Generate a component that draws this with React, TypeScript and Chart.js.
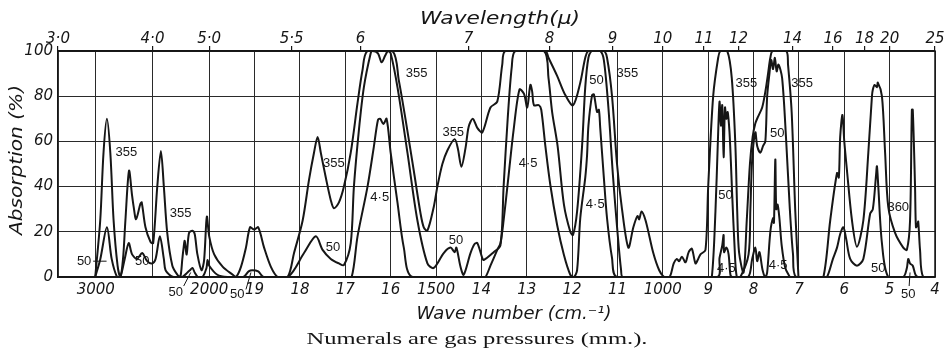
import { useEffect, useRef } from 'react';
import { Chart, registerables, LinearScale } from 'chart.js';

// ---- axis definition (wave number, cm^-1) ----
const WN_MAX = 10000 / 3; // 3.0 micron
const WN_MIN = 400;       // 25 micron
const WN_BREAK = 2000;    // scale changes here
const COMPRESS = 4;       // high-frequency part drawn 4x compressed

const WN_TICKS = [3000, 2500, 2000, 1900, 1800, 1700, 1600, 1500, 1400, 1300, 1200, 1100, 1000, 900, 800, 700, 600, 500, 400];
const WN_TICK_LABELS = ['3000', '', '2000', '19', '18', '17', '16', '1500', '14', '13', '12', '11', '1000', '9', '8', '7', '6', '5', '4'];

const WL_TICKS = [3, 4, 5, 5.5, 6, 7, 8, 9, 10, 11, 12, 14, 16, 18, 20, 25];
const WL_TICK_LABELS = ['3·0', '4·0', '5·0', '5·5', '6', '7', '8', '9', '10', '11', '12', '14', '16', '18', '20', '25'];

const Y_TICKS = [0, 20, 40, 60, 80, 100];

// ---- spectra: [wave number, absorption %] ----
const S355: [number, number][] = [
  [3005, 0], [2961, 25], [2932, 55], [2902, 70], [2872, 55], [2843, 25], [2808, 5], [2784, 0], [2760, 8], [2739, 25], [2707, 47], [2680, 36], [2666, 31], [2645, 25.6], [2606, 32.5], [2595, 33], [2562, 22], [2518, 15.6], [2494, 15], [2458, 40], [2426, 55.7], [2400, 40], [2370, 19.5], [2325, 5], [2281, 1], [2255, 0], [2237, 8], [2228, 12], [2216, 16], [2199, 10], [2178, 19.5], [2148, 20.5], [2128, 19], [2104, 10], [2068, 3], [2045, 7.5], [2021, 26.7], [2000, 18], [1989, 10], [1970, 4.5], [1948, 1], [1941, 0],
  [1930, 4.5], [1919, 13], [1910, 22], [1901, 21], [1892, 22], [1879, 13], [1864, 4.5], [1849, 0], [1827, 0], [1813, 10.6], [1794, 25], [1780, 43], [1769, 55], [1761, 62], [1754, 55], [1743, 44], [1732, 34], [1725, 30.4], [1714, 33], [1703, 40], [1688, 55], [1673, 77], [1662, 91.6], [1651, 100], [1596, 100], [1582, 87], [1567, 69.5], [1549, 47], [1534, 28], [1527, 22], [1519, 20.5], [1505, 31], [1497, 40], [1486, 50], [1475, 56], [1459, 61], [1452, 57], [1444, 48.8], [1435, 57], [1428, 66.5], [1419, 70], [1409, 66], [1398, 64], [1380, 75], [1365, 77.6], [1354, 94], [1347, 100],
  [1259, 100], [1252, 97], [1233, 89], [1215, 80.5], [1198, 76], [1182, 86], [1171, 97], [1164, 100], [1130, 100], [1123, 97], [1112, 80], [1101, 50], [1090, 30], [1076, 13], [1065, 22], [1056, 27], [1052, 25.5], [1047, 29], [1038, 25], [1021, 10.6], [1008, 3], [997, 0], [985, 0], [976, 6], [969, 8], [964, 7], [958, 9], [950, 6.5], [943, 11], [936, 12.5], [928, 6], [922, 8], [917, 10], [906, 12], [900, 40], [889, 80], [878, 97], [873, 100], [858, 100], [848, 88], [840, 58], [836, 29], [832, 11], [822, 2], [815, 25], [808, 50], [802, 62], [796, 68], [790, 71], [781, 75], [774, 82], [768, 90], [763, 97], [758, 100], [728, 100], [724, 94], [716, 73], [708, 29], [701, 0],
];

const S50: [number, number][] = [
  [3005, 0], [2960, 8], [2902, 22], [2860, 8], [2813, 0], [2784, 0], [2745, 8], [2710, 15], [2680, 10], [2636, 8], [2591, 10.6], [2547, 7], [2503, 6], [2473, 8], [2435, 18], [2400, 8], [2385, 3], [2340, 0.5], [2314, 0], [2237, 0], [2192, 2], [2170, 3], [2148, 4], [2128, 2], [2100, 0], [2060, 0], [2024, 4], [2015, 7.5], [2000, 5], [1982, 1], [1960, 0], [1925, 0], [1913, 2.5], [1905, 3], [1892, 2.5], [1880, 0], [1827, 0],
  [1791, 10.6], [1765, 18], [1750, 12], [1732, 8], [1714, 6], [1703, 5.3], [1688, 15], [1681, 40], [1670, 65], [1659, 84], [1644, 99], [1640, 100], [1628, 99], [1620, 95], [1612, 98], [1606, 100], [1600, 99], [1585, 84], [1563, 55], [1541, 25], [1519, 6], [1505, 4], [1483, 10.6], [1468, 13], [1459, 11], [1455, 13], [1446, 4.5], [1439, 1], [1424, 10.6], [1415, 14.6], [1409, 15], [1398, 8.4], [1395, 7.5], [1373, 11], [1358, 14], [1351, 40], [1342, 70], [1333, 93], [1325, 100],
  [1262, 100], [1252, 88], [1244, 73], [1232, 58], [1218, 32], [1204, 20], [1198, 18.6], [1189, 29], [1178, 58], [1171, 84], [1164, 97], [1156, 100], [1138, 100], [1130, 96], [1120, 75], [1110, 45], [1100, 20], [1092, 3], [1088, 0], [900, 0], [892, 0], [884, 29], [879, 58], [875, 77.6], [872, 67], [869, 76], [866, 53], [863, 75], [860, 70], [857, 73], [853, 64], [850, 51], [847, 36], [842, 14], [837, 0], [829, 0], [811, 10], [807, 30], [803, 52], [796, 64], [792, 58], [785, 55], [779, 58], [774, 60], [770, 80], [765, 90], [761, 96], [757, 92], [753, 97], [749, 91], [745, 94], [737, 88], [728, 60], [720, 30], [713, 10], [706, 0],
  [646, 0], [638, 0], [625, 8], [616, 13], [609, 19], [602, 22], [596, 17], [587, 8], [572, 5], [558, 8], [543, 28], [537, 30], [530, 45], [528, 49], [525, 40], [517, 15], [503, 0], [470, 0], [462, 4], [459, 8], [455, 6], [449, 5], [443, 1], [437, 0], [400, 0],
];

const S4_5: [number, number][] = [
  [1700, 0], [1686, 0], [1673, 18], [1651, 40], [1637, 57.7], [1628, 69.5], [1623, 70], [1616, 67.7], [1609, 70], [1600, 55], [1585, 33], [1571, 13], [1552, 0], [1398, 0], [1391, 0], [1380, 5], [1365, 12], [1358, 15], [1351, 25], [1340, 45], [1329, 65], [1316, 83], [1306, 81], [1299, 75], [1292, 85], [1288, 82], [1284, 76], [1273, 76], [1268, 74], [1259, 58], [1248, 40.7], [1233, 23], [1218, 9.7], [1204, 1], [1196, 0],
  [1189, 3], [1182, 26], [1171, 44], [1167, 54], [1164, 67], [1156, 80.5], [1152, 80.8], [1145, 73], [1141, 74], [1138, 66], [1130, 44], [1123, 26], [1112, 8.4], [1101, 0], [880, 0], [875, 8.4], [869, 14], [866, 18.6], [865, 11], [860, 13], [855, 10], [851, 1], [847, 0], [812, 0], [803, 8], [796, 13], [792, 7], [787, 11], [780, 3], [774, 0], [770, 2], [763, 20], [757, 26], [755, 24], [752, 52], [750, 30], [747, 32], [743, 26], [738, 14], [730, 4], [720, 0],
];

const S360: [number, number][] = [
  [660, 0], [646, 0], [631, 25], [616, 46], [612, 44], [609, 62], [604, 71.7], [600, 60], [594, 47], [583, 25], [572, 13.4], [558, 25], [547, 55], [539, 80], [537, 83], [533, 85], [528, 84], [526, 86], [517, 80], [510, 55], [503, 31], [488, 19.5], [470, 13], [462, 12], [455, 25], [451, 74], [449, 74], [444, 40], [442, 22], [439, 23], [437, 24.5], [433, 12], [426, 0], [400, 0],
];

// pressure annotations: text, wave number, absorption, optional leader line
type Note = { t: string; wn: number; p: number; lead?: [number, number, number, number] };
const NOTES: Note[] = [
  { t: '50', wn: 3103, p: 7, lead: [3023, 7, 2905, 7] },
  { t: '355', wn: 2730, p: 55 },
  { t: '50', wn: 2590, p: 7 },
  { t: '355', wn: 2252, p: 28 },
  { t: '50', wn: 2296, p: -7, lead: [2225, -4, 2163, 2] },
  { t: '50', wn: 1938, p: -7.5, lead: [1919, -5.5, 1908, 2] },
  { t: '355', wn: 1725, p: 50.4 },
  { t: '50', wn: 1727, p: 13.3 },
  { t: '4·5', wn: 1624, p: 35 },
  { t: '355', wn: 1543, p: 90.3 },
  { t: '355', wn: 1462, p: 64 },
  { t: '50', wn: 1456, p: 16.4 },
  { t: '4·5', wn: 1297, p: 50.4 },
  { t: '50', wn: 1146, p: 87 },
  { t: '4·5', wn: 1149, p: 32 },
  { t: '355', wn: 1078, p: 90.3 },
  { t: '355', wn: 816, p: 85.8 },
  { t: '355', wn: 693, p: 85.8 },
  { t: '50', wn: 748, p: 63.7 },
  { t: '50', wn: 862, p: 36.3 },
  { t: '4·5', wn: 860, p: 4 },
  { t: '4·5', wn: 746, p: 5.3 },
  { t: '360', wn: 481, p: 31 },
  { t: '50', wn: 525, p: 4 },
  { t: '50', wn: 459, p: -7.5, lead: [457, -4, 455, 2] },
];

// ---- piecewise wave-number scale ----
const SEG1 = (WN_MAX - WN_BREAK) / COMPRESS;
function warpUnits(v: number) {
  return v >= WN_BREAK ? (WN_MAX - v) / COMPRESS : SEG1 + (WN_BREAK - v);
}
const TOTAL = warpUnits(WN_MIN);
function unwarp(u: number) {
  return u <= SEG1 ? WN_MAX - u * COMPRESS : WN_BREAK - (u - SEG1);
}

class WarpScale extends LinearScale {
  static id = 'warp';
  getPixelForValue(value: number) {
    return this.getPixelForDecimal(warpUnits(value) / TOTAL);
  }
  getValueForPixel(pixel: number) {
    return unwarp(this.getDecimalForPixel(pixel) * TOTAL);
  }
}

Chart.register(...registerables, WarpScale as any);

const INK = '#161616';
const TICK_FONT = { family: "'DejaVu Sans'", style: 'italic' as const, size: 15 };

function drawFitted(ctx: CanvasRenderingContext2D, text: string, cx: number, cy: number, font: string, width: number, rot = 0) {
  ctx.save();
  ctx.font = font;
  ctx.textAlign = 'center';
  ctx.textBaseline = 'middle';
  const w = ctx.measureText(text).width;
  ctx.translate(cx, cy);
  if (rot) ctx.rotate(rot);
  ctx.scale(width / w, 1);
  ctx.fillStyle = INK;
  ctx.fillText(text, 0, 0);
  ctx.restore();
}

const textPlugin = {
  id: 'texts',
  afterDraw(chart: any) {
    const { ctx, chartArea, scales } = chart;
    const xs = scales.x;
    const ys = scales.y;
    ctx.save();
    ctx.strokeStyle = INK;
    ctx.lineWidth = 1.5;
    ctx.strokeRect(chartArea.left, chartArea.top, chartArea.right - chartArea.left, chartArea.bottom - chartArea.top);
    ctx.restore();

    drawFitted(ctx, 'Wavelength(μ)', 500, 20, "italic 17px 'DejaVu Sans'", 160);
    drawFitted(ctx, 'Wave number (cm.⁻¹)', 514, 315, "italic 17px 'DejaVu Sans'", 195);
    drawFitted(ctx, 'Absorption (%)', 17, 160, "italic 18px 'DejaVu Sans'", 150, -Math.PI / 2);
    drawFitted(ctx, 'Numerals are gas pressures (mm.).', 477, 340, "17px 'Liberation Serif'", 341);

    ctx.save();
    ctx.font = "13px 'Liberation Sans'";
    ctx.textAlign = 'center';
    ctx.textBaseline = 'middle';
    ctx.fillStyle = INK;
    ctx.strokeStyle = INK;
    ctx.lineWidth = 1;
    for (const n of NOTES) {
      const x = xs.getPixelForValue(n.wn);
      const y = ys.getPixelForValue(n.p);
      ctx.fillText(n.t, x, y);
      if (n.lead) {
        ctx.beginPath();
        ctx.moveTo(xs.getPixelForValue(n.lead[0]), ys.getPixelForValue(n.lead[1]));
        ctx.lineTo(xs.getPixelForValue(n.lead[2]), ys.getPixelForValue(n.lead[3]));
        ctx.stroke();
      }
    }
    ctx.restore();
  },
};

function toPoints(arr: [number, number][]) {
  return arr.map(([x, y]) => ({ x, y }));
}

export default function App() {
  const ref = useRef<HTMLCanvasElement>(null);
  useEffect(() => {
    if (!ref.current) return;
    const ds = (label: string, arr: [number, number][]) => ({
      label,
      data: toPoints(arr),
      borderColor: INK,
      borderWidth: 2,
      pointRadius: 0,
      tension: 0.3,
      fill: false,
      xAxisID: 'x',
      yAxisID: 'y',
    });
    const chart = new Chart(ref.current, {
      type: 'line',
      data: {
        datasets: [ds('355 mm', S355), ds('50 mm', S50), ds('4.5 mm', S4_5), ds('360 mm', S360)],
      },
      options: {
        animation: false,
        responsive: false,
        events: [],
        layout: { padding: { left: 0, right: 14, top: 0, bottom: 0 } },
        plugins: { legend: { display: false }, tooltip: { enabled: false }, title: { display: false } },
        scales: {
          x: {
            type: 'warp' as any,
            position: 'bottom',
            min: WN_MIN,
            max: WN_MAX,
            afterBuildTicks: (s: any) => { s.ticks = WN_TICKS.map((v) => ({ value: v })); },
            afterFit: (s: any) => { s.height = 75; },
            ticks: { autoSkip: false, maxRotation: 0, minRotation: 0, padding: 4, color: INK, font: TICK_FONT, callback: (_v: any, i: number) => WN_TICK_LABELS[i] },
            grid: { color: '#2a2a2a', lineWidth: 1, drawTicks: false },
            border: { color: INK, width: 1.5 },
          },
          x2: {
            type: 'warp' as any,
            position: 'top',
            min: WN_MIN,
            max: WN_MAX,
            afterBuildTicks: (s: any) => { s.ticks = WL_TICKS.map((u) => ({ value: 10000 / u })); },
            afterFit: (s: any) => { s.height = 51; },
            ticks: { autoSkip: false, maxRotation: 0, minRotation: 0, padding: -2, color: INK, font: TICK_FONT, callback: (_v: any, i: number) => WL_TICK_LABELS[i] },
            grid: { drawOnChartArea: false, drawTicks: true, tickLength: 5, color: INK, lineWidth: 1.2 },
            border: { color: INK, width: 1.5 },
          },
          y: {
            min: 0,
            max: 100,
            afterBuildTicks: (s: any) => { s.ticks = Y_TICKS.map((v) => ({ value: v })); },
            afterFit: (s: any) => { s.width = 58; },
            ticks: { padding: 5, color: INK, font: TICK_FONT },
            grid: { color: '#2a2a2a', lineWidth: 1, drawTicks: false },
            border: { color: INK, width: 1.5 },
          },
        },
      } as any,
      plugins: [textPlugin],
    });
    return () => chart.destroy();
  }, []);
  return (
    <div style={{ position: 'absolute', left: 0, top: 0, width: 949, height: 352, background: '#fff' }}>
      <canvas ref={ref} width={949} height={352} style={{ display: 'block' }} />
    </div>
  );
}
